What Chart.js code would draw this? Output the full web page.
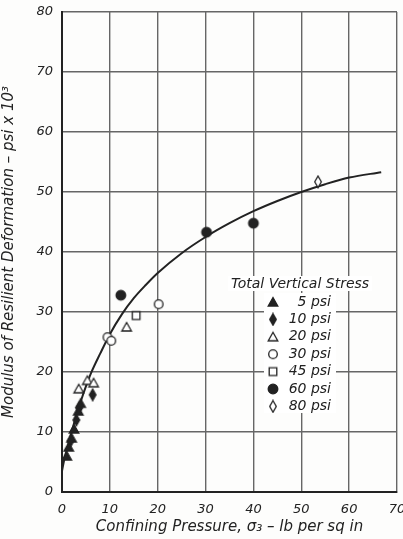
<!DOCTYPE html>
<html>
<head>
<meta charset="utf-8">
<script src="https://cdn.jsdelivr.net/npm/chart.js@4"></script>
<style>
  body { margin: 0; background: #fff; }
  #wrap { width: 403px; height: 539px; }
</style>
</head>
<body>
<div id="wrap"><canvas id="chart" width="403" height="539"></canvas></div>
<script>
// fitted curve
const curveX = [0, 0.5, 1, 2, 3, 4, 5, 6, 8, 10, 12.5, 15, 17.5, 20, 25, 30, 35, 40, 45, 50, 55, 60, 66.7];
const curveY = [3.5, 5.5, 7, 10, 12.8, 15.3, 17.6, 19.7, 23.1, 26.3, 29.6, 32.3, 34.5, 36.5, 39.8, 42.5, 44.8, 46.8, 48.5, 50.0, 51.3, 52.4, 53.3];

// measured points, one pair of arrays per total vertical stress
const psi5X = [1.0, 1.4, 2.0, 2.5, 3.4, 3.9];
const psi5Y = [6.0, 7.5, 9.0, 10.5, 13.5, 14.8];
const psi10X = [1.8, 3.0, 3.6, 6.4];
const psi10Y = [8.5, 12.0, 14.0, 16.2];
const psi20X = [3.5, 5.3, 6.6, 13.5];
const psi20Y = [17.2, 18.6, 18.2, 27.5];
const psi30X = [9.5, 10.3, 20.2];
const psi30Y = [25.8, 25.2, 31.3];
const psi45X = [15.5];
const psi45Y = [29.4];
const psi60X = [12.3, 30.2, 40.0];
const psi60Y = [32.8, 43.3, 44.8];
const psi80X = [53.5];
const psi80Y = [51.7];

const legendTitle = "Total Vertical Stress";
const stressLabels = ["5 psi", "10 psi", "20 psi", "30 psi", "45 psi", "60 psi", "80 psi"];

const xTicks = [0, 10, 20, 30, 40, 50, 60, 70];
const yTicks = [0, 10, 20, 30, 40, 50, 60, 70, 80];

const ink = "#222";
const italic = "'DejaVu Sans', sans-serif";

// little canvases used as point markers
function marker(shape, filled) {
  const c = document.createElement("canvas");
  c.width = 14; c.height = 14;
  const g = c.getContext("2d");
  g.translate(7, 7);
  g.beginPath();
  if (shape === "tri") {
    g.moveTo(0, -4.5); g.lineTo(4.8, 4); g.lineTo(-4.8, 4); g.closePath();
  } else if (shape === "circle") {
    g.arc(0, 0, filled ? 4.8 : 4.3, 0, Math.PI * 2);
  } else if (shape === "square") {
    g.rect(-3.8, -3.8, 7.6, 7.6);
  } else if (shape === "diamond") {
    g.moveTo(0, -5.8); g.lineTo(3.3, 0); g.lineTo(0, 5.8); g.lineTo(-3.3, 0); g.closePath();
  }
  g.fillStyle = filled ? ink : "#fff";
  g.fill();
  g.lineWidth = 1.3;
  g.strokeStyle = ink;
  g.stroke();
  return c;
}

const markers = [
  marker("tri", true),
  marker("diamond", true),
  marker("tri", false),
  marker("circle", false),
  marker("square", false),
  marker("circle", true),
  marker("diamond", false)
];

function pts(xs, ys) {
  return xs.map((x, i) => ({ x: x, y: ys[i] }));
}

const series = [
  pts(psi5X, psi5Y), pts(psi10X, psi10Y), pts(psi20X, psi20Y), pts(psi30X, psi30Y),
  pts(psi45X, psi45Y), pts(psi60X, psi60Y), pts(psi80X, psi80Y)
];

const datasets = series.map((d, i) => ({
  type: "scatter",
  label: stressLabels[i],
  data: d,
  pointStyle: markers[i],
  pointRadius: 5,
  order: 0
}));

datasets.push({
  type: "line",
  label: "curve",
  data: pts(curveX, curveY),
  borderColor: ink,
  borderWidth: 2,
  pointRadius: 0,
  cubicInterpolationMode: "monotone",
  fill: false,
  order: 1
});

// legend block inside the plot
const stressLegend = {
  id: "stressLegend",
  afterDraw(chart) {
    const ctx = chart.ctx;
    ctx.save();
    ctx.font = "italic 14px " + italic;
    ctx.textBaseline = "middle";
    let w = ctx.measureText(legendTitle).width;
    ctx.fillStyle = "#fff";
    ctx.fillRect(300 - w / 2 - 3, 276, w + 6, 15);
    ctx.fillRect(264, 293, 72, 120);
    ctx.fillStyle = ink;
    ctx.textAlign = "center";
    ctx.fillText(legendTitle, 300, 284);
    ctx.font = "italic 14px " + italic;
    ctx.textAlign = "right";
    stressLabels.forEach((lab, i) => {
      const y = 302 + i * 17.4;
      const m = markers[i];
      ctx.drawImage(m, 273 - m.width / 2, y - m.height / 2);
      ctx.fillText(lab, 331, y);
    });
    ctx.restore();
  }
};

const bg = {
  id: "bg",
  beforeDraw(chart) {
    const ctx = chart.ctx;
    ctx.save();
    ctx.fillStyle = "#fdfdfc";
    ctx.fillRect(0, 0, chart.width, chart.height);
    ctx.restore();
  }
};

new Chart(document.getElementById("chart"), {
  data: { datasets: datasets },
  plugins: [bg, stressLegend],
  options: {
    responsive: false,
    animation: false,
    layout: { padding: { top: 12, right: 2, left: 0, bottom: 0 } },
    plugins: { legend: { display: false }, tooltip: { enabled: false } },
    scales: {
      x: {
        type: "linear",
        min: 0, max: 70,
        afterBuildTicks(s) { s.ticks = xTicks.map(v => ({ value: v })); },
        afterFit(s) { s.height = 47; s.paddingLeft = 0; s.paddingRight = 0; },
        grid: { color: "#666", lineWidth: 1.4, drawTicks: false },
        border: { display: true, color: ink, width: 2 },
        ticks: { color: ink, padding: 10, font: { family: italic, size: 13, style: "italic" } },
        title: {
          display: true,
          text: "Confining Pressure, σ₃ – lb per sq in",
          color: ink,
          padding: { top: 0, bottom: 3 },
          font: { family: italic, size: 15, style: "italic" }
        }
      },
      y: {
        type: "linear",
        min: 0, max: 80,
        afterBuildTicks(s) { s.ticks = yTicks.map(v => ({ value: v })); },
        afterFit(s) { s.width = 62; s.paddingTop = 0; s.paddingBottom = 0; },
        grid: { color: "#666", lineWidth: 1.4, drawTicks: false },
        border: { display: true, color: ink, width: 2 },
        ticks: { color: ink, padding: 9, font: { family: italic, size: 13, style: "italic" } },
        title: {
          display: true,
          text: "Modulus of Resilient Deformation – psi x 10³",
          color: ink,
          padding: { top: 0, bottom: 3 },
          font: { family: italic, size: 15, style: "italic" }
        }
      }
    }
  }
});
</script>
</body>
</html>
